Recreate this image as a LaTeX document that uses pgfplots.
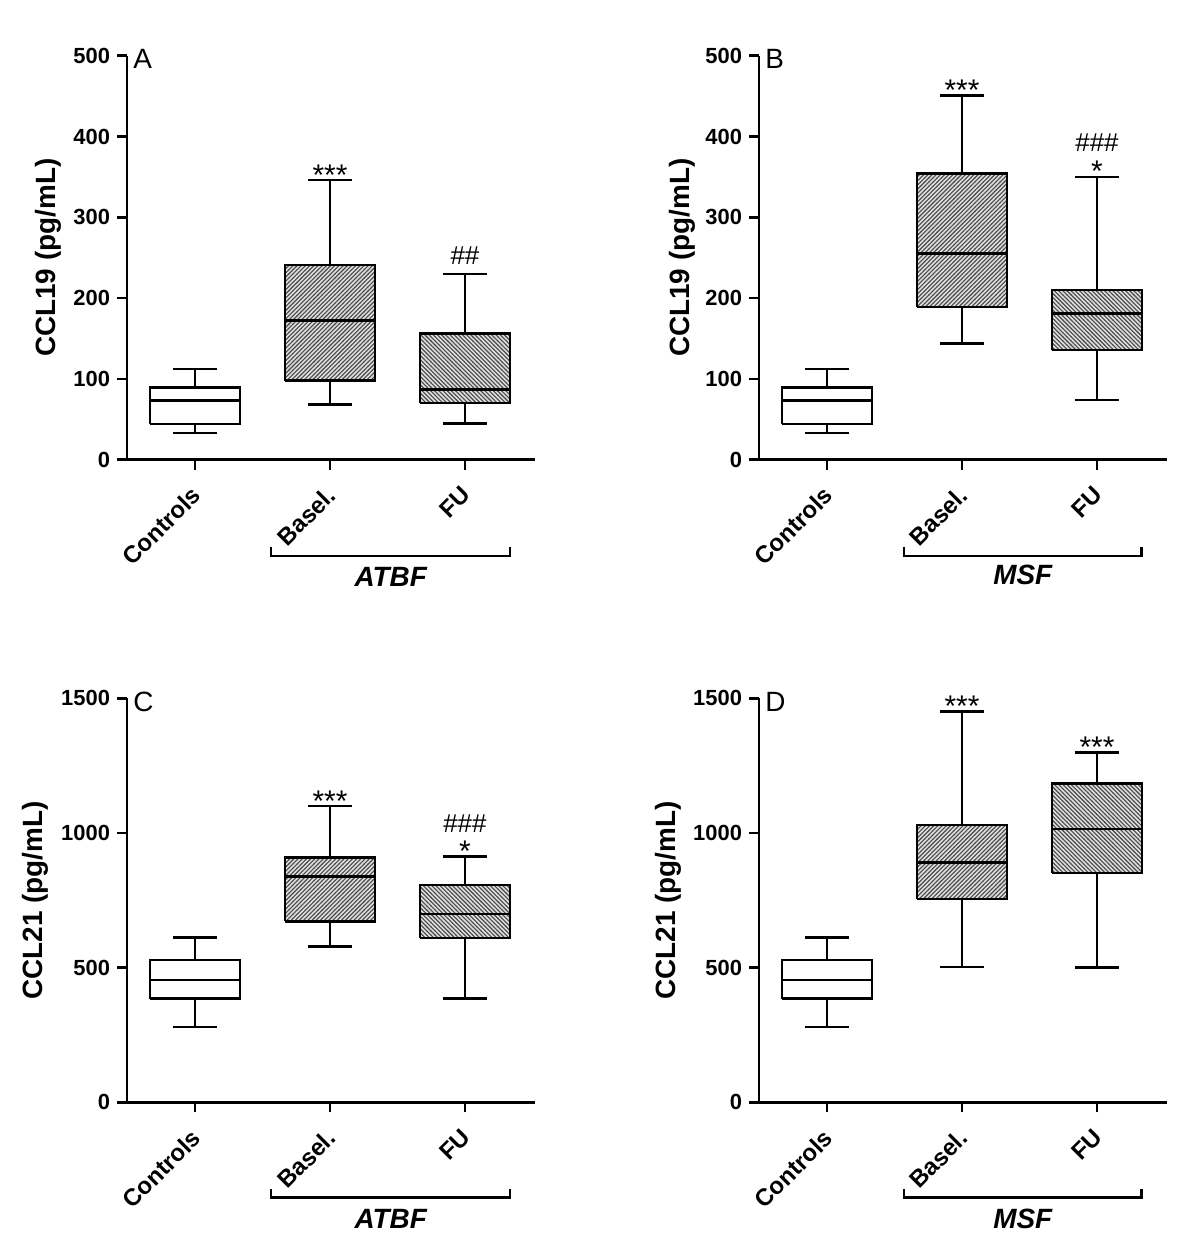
\documentclass[border=0pt]{standalone}
\usepackage{pgfplots}
\pgfplotsset{compat=1.18}
\usetikzlibrary{patterns}
\usepackage{fontspec}
\setmainfont{Liberation Sans}
\setsansfont{Liberation Sans}

\pgfdeclarepatternformonly{denseNE}{\pgfqpoint{-1pt}{-1pt}}{\pgfqpoint{3.2pt}{3.2pt}}{\pgfqpoint{2.1pt}{2.1pt}}{
  \pgfsetlinewidth{0.55pt}
  \pgfpathmoveto{\pgfqpoint{-0.1pt}{-0.1pt}}
  \pgfpathlineto{\pgfqpoint{2.2pt}{2.2pt}}
  \pgfusepath{stroke}
}
\pgfdeclarepatternformonly{denseNW}{\pgfqpoint{-1pt}{-1pt}}{\pgfqpoint{3.2pt}{3.2pt}}{\pgfqpoint{2.1pt}{2.1pt}}{
  \pgfsetlinewidth{0.55pt}
  \pgfpathmoveto{\pgfqpoint{-0.1pt}{2.2pt}}
  \pgfpathlineto{\pgfqpoint{2.2pt}{-0.1pt}}
  \pgfusepath{stroke}
}

\tikzset{
  stars/.style={anchor=base, inner sep=0pt, yshift=-2.5bp, font=\fontsize{15}{17}\selectfont},
  hashes/.style={anchor=base, inner sep=0pt, font=\fontsize{13}{15}\selectfont},
  letter/.style={anchor=west, inner sep=0pt, font=\fontsize{14}{16}\selectfont},
  group/.style={font=\bfseries\itshape\fontsize{14}{16}\selectfont},
}

\pgfplotsset{
  panel/.style={
    scale only axis,
    width=204bp, height=202bp,
    xmin=-0.504, xmax=2.519,
    ymin=0,
    axis x line=bottom, axis y line=left,
    axis line style={line width=1.3bp, -},
    tick style={line width=1.3bp, black},
    tick align=outside,
    major tick length=5bp,
    xtick={0,1,2},
    xticklabels={Controls,Basel.,FU},
    xticklabel style={xshift=-2.5bp, yshift=-6bp, rotate=45, anchor=north east, inner sep=1bp, font=\bfseries\fontsize{12}{14}\selectfont},
    yticklabel style={font=\bfseries\fontsize{11}{13}\selectfont},
    /pgf/number format/assume math mode=true,
    /pgf/number format/1000 sep={},
    scaled y ticks=false,
    clip=false,
  },
  ylab/.style={every axis y label/.style={at={(axis description cs:#1,0.5)}, rotate=90, anchor=center, font=\bfseries\fontsize{14}{16}\selectfont}},
  wline/.style={draw=black, line width=1.3bp, line cap=rect, mark=none, unbounded coords=jump},
  whiteBox/.style={draw=black, line width=1.3bp, fill=white, mark=none, line join=miter},
  hatchNE/.style={draw=black, line width=1.3bp, fill=gray!25, mark=none, line join=miter,
    postaction={pattern=denseNE, pattern color=black!70}},
  hatchNW/.style={draw=black, line width=1.3bp, fill=gray!25, mark=none, line join=miter,
    postaction={pattern=denseNW, pattern color=black!70}},
}

\begin{document}
\begin{tikzpicture}
\path[use as bounding box] (0,0) rectangle (600bp,624.5bp);

% ---------- Panel A ----------
\begin{axis}[panel, at={(63.5bp,394.65bp)}, anchor=south west,
  ymax=500, ytick={0,100,200,300,400,500},
  ylabel={CCL19 (pg/mL)}, ylab=-0.192]
% Controls
\addplot[wline] coordinates {(0,33) (0,44) (nan,nan) (-0.15,33) (0.15,33) (nan,nan) (0,89) (0,112) (nan,nan) (-0.15,112) (0.15,112)};
\addplot[whiteBox] coordinates {(-0.333,44) (0.333,44) (0.333,89) (-0.333,89) (-0.333,44)};
\addplot[wline] coordinates {(-0.333,73) (0.333,73)};
% Basel.
\addplot[wline] coordinates {(1,68) (1,98) (nan,nan) (0.85,68) (1.15,68) (nan,nan) (1,241) (1,346) (nan,nan) (0.85,346) (1.15,346)};
\addplot[hatchNE] coordinates {(0.667,98) (1.333,98) (1.333,241) (0.667,241) (0.667,98)};
\addplot[wline] coordinates {(0.667,172) (1.333,172)};
% FU
\addplot[wline] coordinates {(2,45) (2,70) (nan,nan) (1.85,45) (2.15,45) (nan,nan) (2,156) (2,230) (nan,nan) (1.85,230) (2.15,230)};
\addplot[hatchNW] coordinates {(1.667,70) (2.333,70) (2.333,156) (1.667,156) (1.667,70)};
\addplot[wline] coordinates {(1.667,87) (2.333,87)};
\node[stars] at (axis cs:1,346) {***};
\node[hashes] at (axis cs:2,241) {\#\#};
\node[letter] at (axis cs:-0.46,496) {A};
\draw[line width=1.3bp] (axis cs:-0.578,0) -- (axis cs:-0.504,0);
\draw[line width=1.3bp] (axis cs:0.563,-108) -- (axis cs:0.563,-119.2) -- (axis cs:2.333,-119.2) -- (axis cs:2.333,-108);
\node[group] at (axis cs:1.45,-145) {ATBF};
\end{axis}

% ---------- Panel B ----------
\begin{axis}[panel, at={(379.5bp,394.65bp)}, anchor=south west,
  ymax=500, ytick={0,100,200,300,400,500},
  ylabel={CCL19 (pg/mL)}, ylab=-0.188]
% Controls
\addplot[wline] coordinates {(0,33) (0,44) (nan,nan) (-0.15,33) (0.15,33) (nan,nan) (0,89) (0,112) (nan,nan) (-0.15,112) (0.15,112)};
\addplot[whiteBox] coordinates {(-0.333,44) (0.333,44) (0.333,89) (-0.333,89) (-0.333,44)};
\addplot[wline] coordinates {(-0.333,73) (0.333,73)};
% Basel.
\addplot[wline] coordinates {(1,144) (1,189) (nan,nan) (0.85,144) (1.15,144) (nan,nan) (1,354) (1,451) (nan,nan) (0.85,451) (1.15,451)};
\addplot[hatchNE] coordinates {(0.667,189) (1.333,189) (1.333,354) (0.667,354) (0.667,189)};
\addplot[wline] coordinates {(0.667,255) (1.333,255)};
% FU
\addplot[wline] coordinates {(2,74) (2,136) (nan,nan) (1.85,74) (2.15,74) (nan,nan) (2,210) (2,350) (nan,nan) (1.85,350) (2.15,350)};
\addplot[hatchNW] coordinates {(1.667,136) (2.333,136) (2.333,210) (1.667,210) (1.667,136)};
\addplot[wline] coordinates {(1.667,181) (2.333,181)};
\node[stars] at (axis cs:1,451) {***};
\node[stars] at (axis cs:2,350) {*};
\node[hashes] at (axis cs:2,382) {\#\#\#};
\node[letter] at (axis cs:-0.46,496) {B};
\draw[line width=1.3bp] (axis cs:-0.578,0) -- (axis cs:-0.504,0);
\draw[line width=1.3bp] (axis cs:0.570,-108) -- (axis cs:0.570,-119.2) -- (axis cs:2.33,-119.2) -- (axis cs:2.33,-108);
\node[group] at (axis cs:1.45,-142) {MSF};
\end{axis}

% ---------- Panel C ----------
\begin{axis}[panel, at={(63.5bp,73.3bp)}, anchor=south west,
  ymax=1500, ytick={0,500,1000,1500},
  ylabel={CCL21 (pg/mL)}, ylab=-0.225]
% Controls
\addplot[wline] coordinates {(0,280) (0,385) (nan,nan) (-0.15,280) (0.15,280) (nan,nan) (0,528) (0,612) (nan,nan) (-0.15,612) (0.15,612)};
\addplot[whiteBox] coordinates {(-0.333,385) (0.333,385) (0.333,528) (-0.333,528) (-0.333,385)};
\addplot[wline] coordinates {(-0.333,455) (0.333,455)};
% Basel.
\addplot[wline] coordinates {(1,579) (1,672) (nan,nan) (0.85,579) (1.15,579) (nan,nan) (1,910) (1,1100) (nan,nan) (0.85,1100) (1.15,1100)};
\addplot[hatchNE] coordinates {(0.667,672) (1.333,672) (1.333,910) (0.667,910) (0.667,672)};
\addplot[wline] coordinates {(0.667,838) (1.333,838)};
% FU
\addplot[wline] coordinates {(2,385) (2,610) (nan,nan) (1.85,385) (2.15,385) (nan,nan) (2,807) (2,912) (nan,nan) (1.85,912) (2.15,912)};
\addplot[hatchNW] coordinates {(1.667,610) (2.333,610) (2.333,807) (1.667,807) (1.667,610)};
\addplot[wline] coordinates {(1.667,700) (2.333,700)};
\node[stars] at (axis cs:1,1100) {***};
\node[stars] at (axis cs:2,912) {*};
\node[hashes] at (axis cs:2,1003) {\#\#\#};
\node[letter] at (axis cs:-0.46,1488) {C};
\draw[line width=1.3bp] (axis cs:-0.578,0) -- (axis cs:-0.504,0);
\draw[line width=1.3bp] (axis cs:0.563,-323) -- (axis cs:0.563,-352) -- (axis cs:2.333,-352) -- (axis cs:2.333,-323);
\node[group] at (axis cs:1.45,-432) {ATBF};
\end{axis}

% ---------- Panel D ----------
\begin{axis}[panel, at={(379.5bp,73.3bp)}, anchor=south west,
  ymax=1500, ytick={0,500,1000,1500},
  ylabel={CCL21 (pg/mL)}, ylab=-0.223]
% Controls
\addplot[wline] coordinates {(0,280) (0,385) (nan,nan) (-0.15,280) (0.15,280) (nan,nan) (0,528) (0,612) (nan,nan) (-0.15,612) (0.15,612)};
\addplot[whiteBox] coordinates {(-0.333,385) (0.333,385) (0.333,528) (-0.333,528) (-0.333,385)};
\addplot[wline] coordinates {(-0.333,455) (0.333,455)};
% Basel.
\addplot[wline] coordinates {(1,502) (1,755) (nan,nan) (0.85,502) (1.15,502) (nan,nan) (1,1030) (1,1452) (nan,nan) (0.85,1452) (1.15,1452)};
\addplot[hatchNE] coordinates {(0.667,755) (1.333,755) (1.333,1030) (0.667,1030) (0.667,755)};
\addplot[wline] coordinates {(0.667,890) (1.333,890)};
% FU
\addplot[wline] coordinates {(2,500) (2,852) (nan,nan) (1.85,500) (2.15,500) (nan,nan) (2,1185) (2,1300) (nan,nan) (1.85,1300) (2.15,1300)};
\addplot[hatchNW] coordinates {(1.667,852) (2.333,852) (2.333,1185) (1.667,1185) (1.667,852)};
\addplot[wline] coordinates {(1.667,1015) (2.333,1015)};
\node[stars] at (axis cs:1,1452) {***};
\node[stars] at (axis cs:2,1300) {***};
\node[letter] at (axis cs:-0.46,1488) {D};
\draw[line width=1.3bp] (axis cs:-0.578,0) -- (axis cs:-0.504,0);
\draw[line width=1.3bp] (axis cs:0.570,-323) -- (axis cs:0.570,-352) -- (axis cs:2.33,-352) -- (axis cs:2.33,-323);
\node[group] at (axis cs:1.45,-432) {MSF};
\end{axis}
\end{tikzpicture}
\end{document}
